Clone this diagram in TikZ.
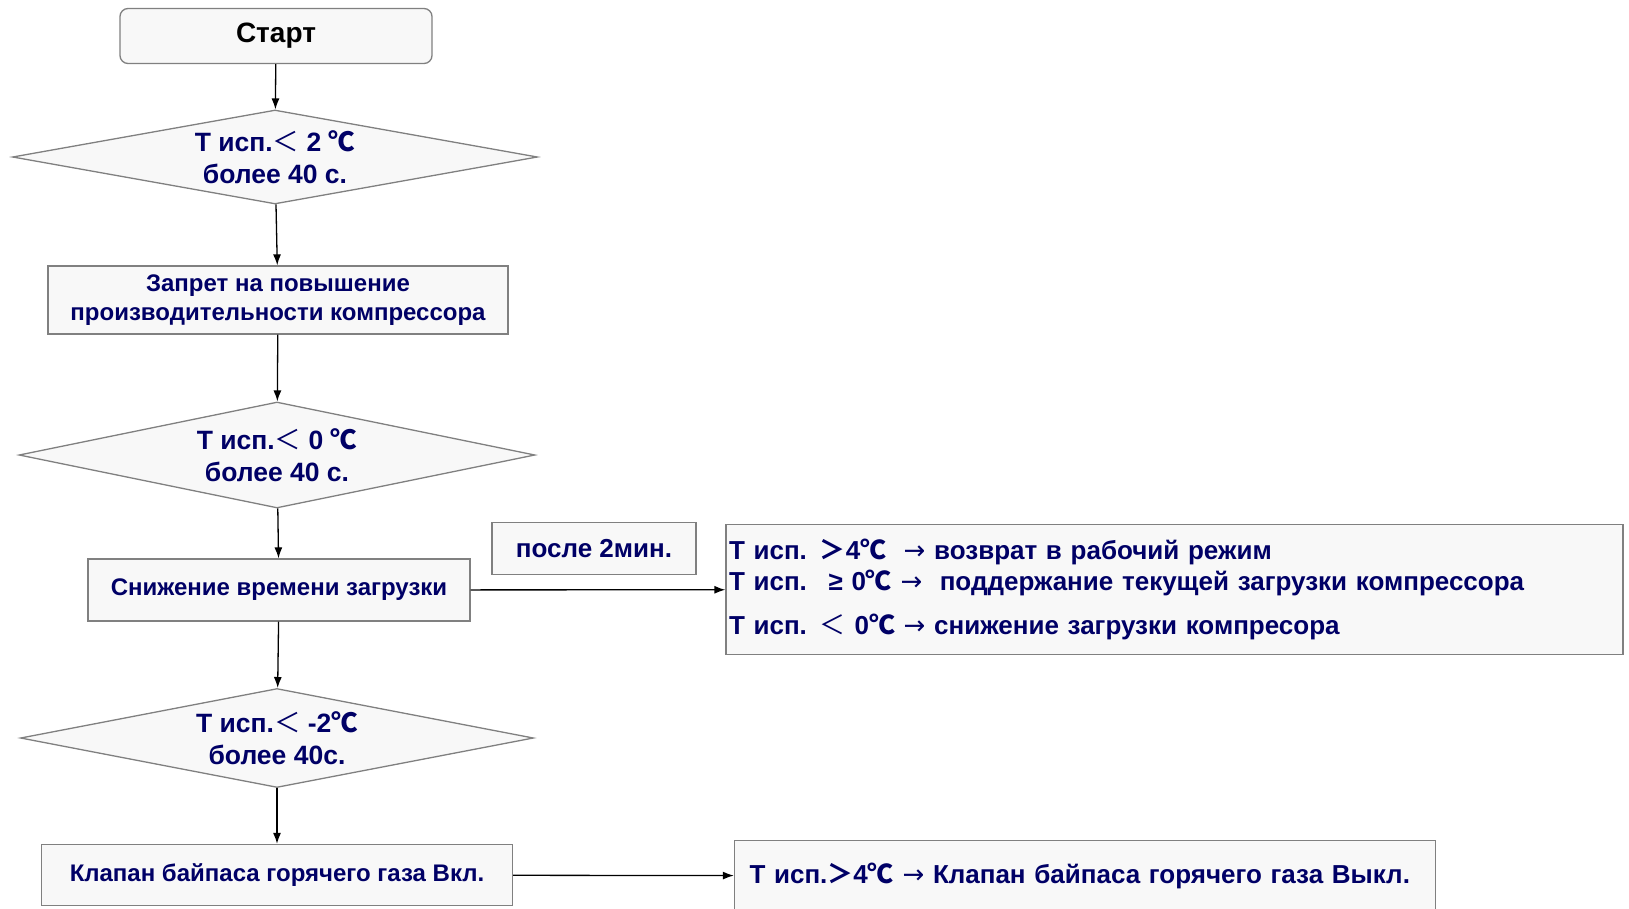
\documentclass[tikz,border=0pt]{standalone}
\usepackage{fontspec}
\setmainfont{Liberation Sans}
\newfontfamily\dejavu{DejaVu Sans}
\newfontfamily\cjk{Noto Sans CJK SC}
\usetikzlibrary{shapes.geometric}
\usetikzlibrary{arrows.meta}
\definecolor{navy}{HTML}{000066}
\definecolor{boxfill}{HTML}{F8F8F8}
\definecolor{boxline}{HTML}{808080}
\newcommand{\degc}{{\cjk ℃}}
\newcommand{\cjklt}{{\cjk\mdseries ＜}}
\newcommand{\cjkgt}{{\cjk ＞}}
\newcommand{\rarr}{{\dejavu\mdseries →}}

\begin{document}
\begin{tikzpicture}[x=1pt, y=-1pt,
	every node/.style = {draw=boxline, fill=boxfill, line width=1.3pt, text=navy, align=center, inner sep=0pt},
	block/.style = {rectangle, font=\bfseries\fontsize{24}{28.5}\selectfont},
	decision/.style = {diamond, aspect=5.5, font=\bfseries\fontsize{26.5}{32}\selectfont},
	flow/.style = {draw=black, line width=1.3pt, -{Latex[length=11pt,width=8pt]}}
	]
	\useasboundingbox (0,0) rectangle (1629,908);
	\clip (0,0) rectangle (1629,908);

	% main column
	\node[block, rounded corners=8pt, text=black, font=\bfseries\fontsize{28}{32}\selectfont,
		minimum width=312pt, minimum height=55pt] (start) at (276,36) {Старт};
	\node[decision, minimum width=525pt, minimum height=94pt] (cond1) at (275,157) {Т исп.\cjklt{} 2 \degc\\более 40 с.};
	\node[block, minimum width=460pt, minimum height=68pt] (ban) at (278,300) {Запрет на повышение\\производительности компрессора};
	\node[decision, minimum width=516pt, minimum height=106pt] (cond2) at (277,455) {Т исп.\cjklt{} 0 \degc\\более 40 с.};
	\node[block, minimum width=382pt, minimum height=62pt] (reduce) at (279,590) {Снижение времени загрузки};
	\node[decision, minimum width=513pt, minimum height=99pt] (cond3) at (277,738) {Т исп.\cjklt{} -2\degc\\более 40с.};
	\node[block, minimum width=471pt, minimum height=61pt] (bypass) at (277,875) {Клапан байпаса горячего газа Вкл.};

	% right side
	\node[block, font=\bfseries\fontsize{26}{30}\selectfont, minimum width=204pt, minimum height=52pt] (after) at (594,548.5) {после 2мин.};
	\node[block, font=\bfseries\fontsize{26}{31}\selectfont, align=left, text width=891pt, inner xsep=3pt,
		minimum height=130pt] (check1) at (1174.5,589.5)
		{Т исп. \cjkgt4\degc{} \ \rarr{} возврат в рабочий режим\\
		 Т исп. \ ≥ 0\degc{} \rarr{} \ поддержание текущей загрузки компрессора\\[13pt]
		 Т исп. \cjklt{} 0\degc{} \rarr{} снижение загрузки компресора};
	\node[block, font=\bfseries\fontsize{26}{30}\selectfont, align=left, text width=671pt, inner xsep=15pt,
		minimum height=71pt] (check2) at (1085,876) {Т исп.\cjkgt4\degc{} \rarr{} Клапан байпаса горячего газа Выкл.};

	% connectors
	\draw[flow] (start) -- (cond1);
	\draw[flow] (cond1) -- (ban);
	\draw[flow] (ban) -- (cond2);
	\draw[flow] (cond2) -- (reduce);
	\draw[flow] (reduce) -- (cond3);
	\draw[flow] (cond3) -- (bypass);
	\draw[flow] (reduce) -- (check1);
	\draw[flow] (bypass) -- (check2);
\end{tikzpicture}
\end{document}
